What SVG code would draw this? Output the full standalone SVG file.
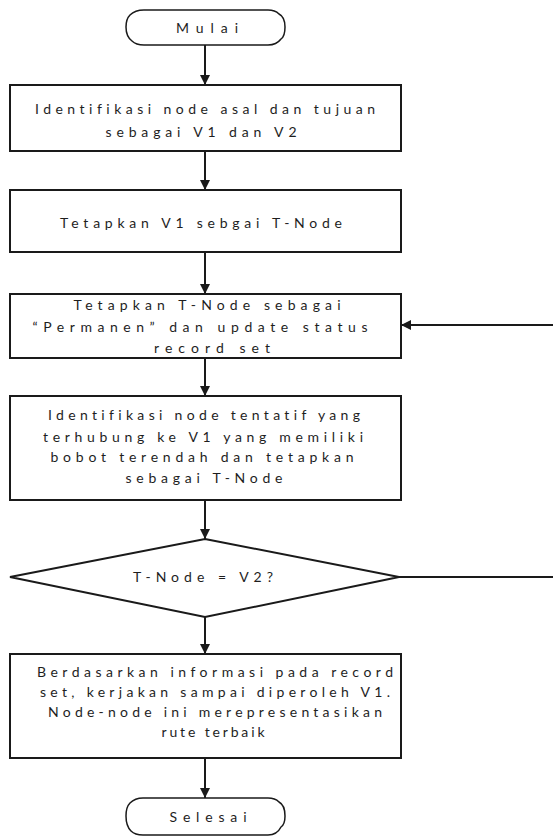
<svg xmlns="http://www.w3.org/2000/svg" width="553" height="837" viewBox="0 0 553 837">
  <defs>
    <marker id="arrow" viewBox="0 0 10 10" refX="10" refY="5" markerWidth="10" markerHeight="10" markerUnits="userSpaceOnUse" orient="auto">
      <path d="M0,0 L10,5 L0,10 Z" fill="#1a1a1a"/>
    </marker>
    <style>
      .shape { fill: #ffffff; stroke: #1a1a1a; stroke-width: 2; }
      .term { fill: #ffffff; stroke: #1a1a1a; stroke-width: 1.5; }
      .edge { fill: none; stroke: #1a1a1a; stroke-width: 2; }
      .label { font-family: "Lato", "Liberation Sans", sans-serif; font-size: 14px; fill: #1e1e1e; text-anchor: middle; font-variant-ligatures: none; }
    </style>
  </defs>

  <rect width="553" height="837" fill="#ffffff"/>

  <!-- connectors -->
  <g id="connectors">
    <line class="edge" x1="205" y1="45" x2="205" y2="85" marker-end="url(#arrow)"/>
    <line class="edge" x1="205" y1="151" x2="205" y2="190" marker-end="url(#arrow)"/>
    <line class="edge" x1="205" y1="252" x2="205" y2="294" marker-end="url(#arrow)"/>
    <line class="edge" x1="205" y1="358" x2="205" y2="396" marker-end="url(#arrow)"/>
    <line class="edge" x1="205" y1="500" x2="205" y2="539" marker-end="url(#arrow)"/>
    <line class="edge" x1="205" y1="617" x2="205" y2="654" marker-end="url(#arrow)"/>
    <line class="edge" x1="205" y1="758" x2="205" y2="798" marker-end="url(#arrow)"/>
    <!-- loop back from the decision to the "Permanen" step -->
    <line class="edge" x1="399" y1="577" x2="553" y2="577"/>
    <line class="edge" x1="553" y1="325" x2="401" y2="325" marker-end="url(#arrow)"/>
  </g>

  <!-- start terminator -->
  <g id="start">
    <path class="term" d="M144,10 L268,10 C274,10 277,12 279,14 C283,16 285,21 285,27 C285,33 284,37 281,39 C278,43 274,45 268,45 L144,45 C138,45 135,44 132,41 C128,38 126,33 126,27 C126,22 127,18 130,15 C133,12 138,10 144,10 Z"/>
    <text class="label" x="207" y="33" textLength="62" lengthAdjust="spacing">Mulai</text>
  </g>

  <g id="identify">
    <rect class="shape" x="10" y="85" width="391" height="66"/>
    <text class="label" x="205" y="114" textLength="340" lengthAdjust="spacing">Identifikasi node asal dan tujuan</text>
    <text class="label" x="201" y="137" textLength="191" lengthAdjust="spacing">sebagai V1 dan V2</text>
  </g>

  <g id="set-v1">
    <rect class="shape" x="10" y="190" width="391" height="62"/>
    <text class="label" x="201" y="228" textLength="282" lengthAdjust="spacing">Tetapkan V1 sebgai T-Node</text>
  </g>

  <g id="permanent">
    <rect class="shape" x="10" y="294" width="391" height="64"/>
    <text class="label" x="207" y="310" textLength="267" lengthAdjust="spacing">Tetapkan T-Node sebagai</text>
    <text class="label" x="200" y="332" textLength="335" lengthAdjust="spacing">“Permanen” dan update status</text>
    <text class="label" x="212" y="353" textLength="116" lengthAdjust="spacing">record set</text>
  </g>

  <g id="tentative">
    <rect class="shape" x="10" y="396" width="391" height="104"/>
    <text class="label" x="204" y="420" textLength="312" lengthAdjust="spacing">Identifikasi node tentatif yang</text>
    <text class="label" x="203" y="442" textLength="320" lengthAdjust="spacing">terhubung ke V1 yang memiliki</text>
    <text class="label" x="202" y="462" textLength="303" lengthAdjust="spacing">bobot terendah dan tetapkan</text>
    <text class="label" x="204" y="483" textLength="157" lengthAdjust="spacing">sebagai T-Node</text>
  </g>

  <g id="decision">
    <polygon class="shape" points="205,539 399,577 205,617 10,577"/>
    <text class="label" x="203" y="582" textLength="140" lengthAdjust="spacing">T-Node = V2?</text>
  </g>

  <g id="trace-route">
    <rect class="shape" x="10" y="654" width="391" height="104"/>
    <text class="label" x="215" y="677" textLength="356" lengthAdjust="spacing">Berdasarkan informasi pada record</text>
    <text class="label" x="215" y="697" textLength="350" lengthAdjust="spacing">set, kerjakan sampai diperoleh V1.</text>
    <text class="label" x="215" y="717" textLength="334" lengthAdjust="spacing">Node-node ini merepresentasikan</text>
    <text class="label" x="213" y="737" textLength="103" lengthAdjust="spacing">rute terbaik</text>
  </g>

  <!-- end terminator -->
  <g id="end">
    <path class="term" d="M143,798 L268,798 C274,798 277,800 279,802 C283,804 285,809 285,816 C285,821 284,825 281,827 C278,833 274,835 268,835 L143,835 C137,835 134,834 131,831 C128,828 126,823 126,816 C126,810 127,806 130,803 C133,800 137,798 143,798 Z"/>
    <text class="label" x="208" y="822" textLength="77" lengthAdjust="spacing">Selesai</text>
  </g>
</svg>
